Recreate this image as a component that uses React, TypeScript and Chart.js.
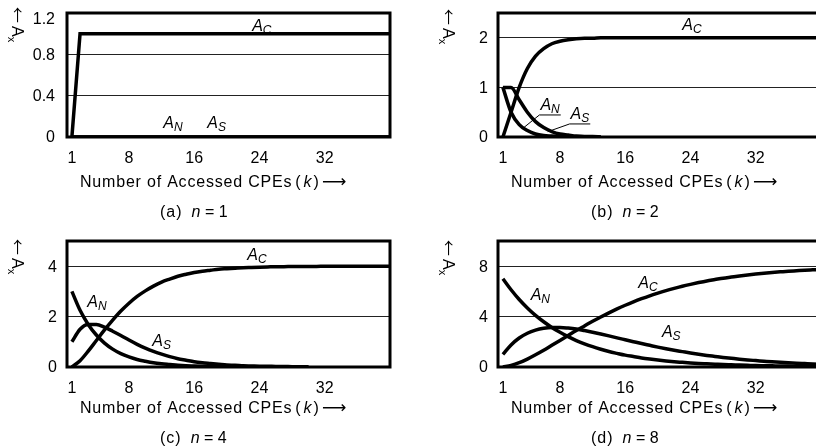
import { useEffect, useRef } from "react";
import { Chart, registerables } from "chart.js";

Chart.register(...registerables);

const SANS = '"Liberation Sans", Arial, sans-serif';
const CJK = '"Noto Sans CJK JP", sans-serif';
const ARROW = '"DejaVu Sans", sans-serif';

// Number of accessed CPEs (k)
const K = [
  1, 2, 3, 4, 5, 6, 7, 8, 9, 10, 11, 12, 13, 14, 15, 16, 17, 18, 19, 20,
  21, 22, 23, 24, 25, 26, 27, 28, 29, 30, 31, 32, 33, 34, 35, 36, 37, 38, 39, 40,
];
const K_TICKS = [1, 8, 16, 24, 32];

// n = 1
const AC_N1 = [
  0, 1, 1, 1, 1, 1, 1, 1, 1, 1, 1, 1, 1, 1, 1, 1, 1, 1, 1, 1,
  1, 1, 1, 1, 1, 1, 1, 1, 1, 1, 1, 1, 1, 1, 1, 1, 1, 1, 1, 1,
];
const AN_N1 = [
  0, 0, 0, 0, 0, 0, 0, 0, 0, 0, 0, 0, 0, 0, 0, 0, 0, 0, 0, 0,
  0, 0, 0, 0, 0, 0, 0, 0, 0, 0, 0, 0, 0, 0, 0, 0, 0, 0, 0, 0,
];
const AS_N1 = [
  0, 0, 0, 0, 0, 0, 0, 0, 0, 0, 0, 0, 0, 0, 0, 0, 0, 0, 0, 0,
  0, 0, 0, 0, 0, 0, 0, 0, 0, 0, 0, 0, 0, 0, 0, 0, 0, 0, 0, 0,
];
const Y_TICKS_N1 = [0, 0.4, 0.8, 1.2];

// n = 2
const AC_N2 = [
  0, 0.5, 1.0, 1.38, 1.63, 1.78, 1.88, 1.93, 1.96, 1.98, 1.99, 1.99, 2, 2, 2, 2, 2, 2, 2, 2,
  2, 2, 2, 2, 2, 2, 2, 2, 2, 2, 2, 2, 2, 2, 2, 2, 2, 2, 2, 2,
];
const AN_N2 = [1, 0.5, 0.25, 0.13, 0.06, 0.03, 0.02, 0.01, 0, 0, 0, 0, 0];
const AS_N2 = [1, 1, 0.75, 0.5, 0.31, 0.19, 0.11, 0.06, 0.04, 0.02, 0.01, 0.01, 0];
const Y_TICKS_N2 = [0, 1, 2];

// n = 4
const AC_N4 = [
  0, 0.25, 0.63, 1.05, 1.47, 1.86, 2.22, 2.53, 2.8, 3.02, 3.21, 3.37, 3.49, 3.6, 3.68, 3.75,
  3.8, 3.84, 3.88, 3.9, 3.92, 3.94, 3.95, 3.96, 3.97, 3.98, 3.98, 3.99, 3.99, 3.99, 3.99,
  4, 4, 4, 4, 4, 4, 4, 4, 4,
];
const AN_N4 = [
  3, 2.25, 1.69, 1.27, 0.95, 0.71, 0.53, 0.4, 0.3, 0.23, 0.17, 0.13, 0.1, 0.07, 0.05,
  0.04, 0.03, 0.02, 0.02, 0.01, 0.01, 0.01, 0.01, 0, 0, 0, 0, 0, 0, 0,
];
const AS_N4 = [
  1, 1.5, 1.69, 1.69, 1.58, 1.42, 1.25, 1.07, 0.9, 0.75, 0.62, 0.51, 0.41, 0.33, 0.27,
  0.21, 0.17, 0.14, 0.11, 0.08, 0.07, 0.05, 0.04, 0.03, 0.03, 0.02, 0.02, 0.01, 0.01, 0.01,
];
const Y_TICKS_N4 = [0, 2, 4];

// n = 8
const AC_N8 = [
  0, 0.13, 0.34, 0.63, 0.97, 1.33, 1.72, 2.11, 2.5, 2.89, 3.26, 3.63, 3.97, 4.3, 4.61,
  4.9, 5.17, 5.42, 5.65, 5.86, 6.06, 6.24, 6.41, 6.56, 6.7, 6.83, 6.94, 7.05, 7.14, 7.23,
  7.31, 7.38, 7.44, 7.5, 7.55, 7.6, 7.64, 7.68, 7.71, 7.74,
];
const AN_N8 = [
  7, 6.13, 5.36, 4.69, 4.1, 3.59, 3.14, 2.75, 2.41, 2.1, 1.84, 1.61, 1.41, 1.23, 1.08,
  0.94, 0.83, 0.72, 0.63, 0.55, 0.48, 0.42, 0.37, 0.32, 0.28, 0.25, 0.22, 0.19, 0.17, 0.15,
  0.13, 0.11, 0.1, 0.09, 0.07, 0.07, 0.06, 0.05, 0.04, 0.04,
];
const AS_N8 = [
  1, 1.75, 2.3, 2.68, 2.93, 3.08, 3.14, 3.14, 3.09, 3.01, 2.89, 2.76, 2.62, 2.47, 2.31,
  2.16, 2.01, 1.86, 1.72, 1.58, 1.45, 1.33, 1.22, 1.11, 1.01, 0.92, 0.84, 0.76, 0.69, 0.62,
  0.56, 0.51, 0.46, 0.41, 0.37, 0.34, 0.3, 0.27, 0.24, 0.22,
];
const Y_TICKS_N8 = [0, 4, 8];

type CurveLabel = { sub: string; k: number; v: number; lead?: { k: number; v: number } };

type Panel = {
  tag: string;
  n: string;
  ac: number[];
  an: number[];
  as: number[];
  yMax: number;
  yTicks: number[];
  smooth: boolean;
  labels: CurveLabel[];
  left: number;
  top: number;
  width: number;
  padL: number;
  padR: number;
  padT: number;
  axisH: number;
  titleY: number;
  captionY: number;
  axTitleY: number;
  tickGap: number;
};

const PANELS: Panel[] = [
  {
    tag: "a", n: "1", ac: AC_N1, an: AN_N1, as: AS_N1, yMax: 1.2, yTicks: Y_TICKS_N1, smooth: false,
    labels: [
      { sub: "C", k: 23.1, v: 1.03 },
      { sub: "N", k: 12.2, v: 0.084 },
      { sub: "S", k: 17.6, v: 0.084 },
    ],
    left: 0, top: 0, width: 408, padL: 67, padR: 18, padT: 13, axisH: 87,
    titleY: 187, captionY: 217, axTitleY: 7, tickGap: 12,
  },
  {
    tag: "b", n: "2", ac: AC_N2, an: AN_N2, as: AS_N2, yMax: 2.5, yTicks: Y_TICKS_N2, smooth: true,
    labels: [
      { sub: "C", k: 23.0, v: 2.15 },
      { sub: "N", k: 5.6, v: 0.545, lead: { k: 3.45, v: 0.175 } },
      { sub: "S", k: 9.3, v: 0.364, lead: { k: 6.5, v: 0.107 } },
    ],
    left: 408, top: 0, width: 430, padL: 90, padR: 17, padT: 13, axisH: 87,
    titleY: 187, captionY: 217, axTitleY: 9, tickGap: 10,
  },
  {
    tag: "c", n: "4", ac: AC_N4, an: AN_N4, as: AS_N4, yMax: 5, yTicks: Y_TICKS_N4, smooth: true,
    labels: [
      { sub: "C", k: 22.5, v: 4.23 },
      { sub: "N", k: 2.88, v: 2.39 },
      { sub: "S", k: 10.85, v: 0.82 },
    ],
    left: 0, top: 224, width: 408, padL: 67, padR: 18, padT: 17, axisH: 81,
    titleY: 189, captionY: 219, axTitleY: 15, tickGap: 10,
  },
  {
    tag: "d", n: "8", ac: AC_N8, an: AN_N8, as: AS_N8, yMax: 10, yTicks: Y_TICKS_N8, smooth: true,
    labels: [
      { sub: "C", k: 17.6, v: 6.24 },
      { sub: "N", k: 4.4, v: 5.3 },
      { sub: "S", k: 20.5, v: 2.42 },
    ],
    left: 408, top: 224, width: 430, padL: 90, padR: 17, padT: 17, axisH: 81,
    titleY: 189, captionY: 219, axTitleY: 16, tickGap: 10,
  },
];

type Seg = { t: string; f: string; dy?: number; ls?: string; gap?: number };

// Draws a run of differently styled text pieces left to right; returns the run width.
function drawSegs(ctx: CanvasRenderingContext2D, x: number, y: number, segs: Seg[]): number {
  let cx = x;
  for (const s of segs) {
    cx += s.gap ?? 0;
    ctx.font = s.f;
    (ctx as any).letterSpacing = s.ls ?? "0px";
    ctx.fillText(s.t, cx, y + (s.dy ?? 0));
    cx += ctx.measureText(s.t).width;
  }
  (ctx as any).letterSpacing = "0px";
  return cx - x;
}

function decorations(p: Panel) {
  return {
    id: "decorations-" + p.tag,
    afterDraw(chart: Chart) {
      const ctx = chart.ctx;
      const area = chart.chartArea;
      const xs = chart.scales.x;
      const ys = chart.scales.y;
      ctx.save();
      ctx.fillStyle = "#000";
      ctx.strokeStyle = "#000";

      // plot frame
      ctx.lineWidth = 3;
      ctx.strokeRect(area.left, area.top, area.right - area.left, area.bottom - area.top);

      // y tick labels
      ctx.font = `16px ${SANS}`;
      ctx.textAlign = "right";
      ctx.textBaseline = "middle";
      for (const v of p.yTicks) {
        const y = Math.max(ys.getPixelForValue(v), area.top + 6);
        ctx.fillText(String(v), area.left - p.tickGap, y + 1);
      }

      // curve labels A_C, A_N, A_S
      ctx.textAlign = "left";
      ctx.textBaseline = "alphabetic";
      for (const l of p.labels) {
        const x = xs.getPixelForValue(l.k);
        const y = ys.getPixelForValue(l.v);
        const w = drawSegs(ctx, x, y, [
          { t: "A", f: `italic 16px ${SANS}` },
          { t: l.sub, f: `italic 12px ${SANS}`, dy: 3 },
        ]);
        if (l.lead) {
          ctx.lineWidth = 1;
          ctx.beginPath();
          ctx.moveTo(x + w + 1, y + 5);
          ctx.lineTo(x - 1, y + 5);
          ctx.lineTo(xs.getPixelForValue(l.lead.k), ys.getPixelForValue(l.lead.v));
          ctx.stroke();
        }
      }

      // vertical axis title
      ctx.save();
      ctx.translate(area.left - 55, p.axTitleY);
      ctx.rotate(Math.PI / 2);
      drawSegs(ctx, 0, 0, [
        { t: "←", f: `16px ${CJK}` },
        { t: "A", f: `16px ${SANS}`, gap: 3 },
        { t: "x", f: `11px ${SANS}`, dy: 4 },
      ]);
      ctx.restore();

      // horizontal axis title
      drawSegs(ctx, area.left + 13, p.titleY, [
        { t: "Number of Accessed CPEs", f: `16px ${SANS}`, ls: "0.8px" },
        { t: "(", f: `16px ${SANS}`, gap: 3 },
        { t: "k", f: `italic 16px ${SANS}`, gap: 3 },
        { t: ")", f: `16px ${SANS}`, gap: 2 },
        { t: "⟶", f: `17px ${ARROW}`, gap: 3 },
      ]);

      // caption
      drawSegs(ctx, area.left + 93, p.captionY, [
        { t: "(", f: `16px ${SANS}` },
        { t: p.tag, f: `16px ${SANS}`, gap: 1 },
        { t: ")", f: `16px ${SANS}`, gap: 1 },
        { t: "n", f: `italic 16px ${SANS}`, gap: 10 },
        { t: " = " + p.n, f: `16px ${SANS}` },
      ]);

      ctx.restore();
    },
  };
}

function PanelChart({ p }: { p: Panel }) {
  const ref = useRef<HTMLCanvasElement | null>(null);

  useEffect(() => {
    if (!ref.current) return;
    const series = (vals: number[]) => vals.map((v, i) => ({ x: K[i], y: v }));
    const line = {
      borderColor: "#000",
      borderWidth: 3.5,
      pointRadius: 0,
      fill: false,
      tension: 0,
      cubicInterpolationMode: p.smooth ? "monotone" : "default",
    };
    const chart = new Chart(ref.current, {
      type: "line",
      data: {
        datasets: [
          { label: "A_C", data: series(p.ac), ...line },
          { label: "A_N", data: series(p.an), ...line },
          { label: "A_S", data: series(p.as), ...line },
        ],
      } as any,
      options: {
        animation: false,
        responsive: false,
        maintainAspectRatio: false,
        layout: { padding: { left: 0, right: p.padR, top: p.padT, bottom: 0 } },
        plugins: { legend: { display: false }, tooltip: { enabled: false } },
        scales: {
          x: {
            type: "linear",
            min: 0.4,
            max: 40,
            afterBuildTicks: (s: any) => {
              s.ticks = K_TICKS.map((v) => ({ value: v }));
            },
            afterFit: (s: any) => {
              s.height = p.axisH;
            },
            grid: { display: false, drawTicks: false },
            border: { display: false },
            ticks: {
              color: "#000",
              font: { family: SANS, size: 16 },
              padding: 12,
              maxRotation: 0,
              autoSkip: false,
              callback: (v: any) => String(v),
            },
          },
          y: {
            type: "linear",
            min: 0,
            max: p.yMax,
            afterBuildTicks: (s: any) => {
              s.ticks = p.yTicks.map((v) => ({ value: v }));
            },
            afterFit: (s: any) => {
              s.width = p.padL;
            },
            grid: { color: "#222", lineWidth: 1, drawTicks: false },
            border: { display: false },
            ticks: { display: false },
          },
        },
      } as any,
      plugins: [decorations(p)],
    });
    return () => chart.destroy();
  }, [p]);

  return (
    <canvas
      ref={ref}
      width={p.width}
      height={224}
      style={{ position: "absolute", left: p.left, top: p.top, width: p.width, height: 224, display: "block" }}
    />
  );
}

export default function App() {
  return (
    <div
      style={{
        position: "fixed",
        left: 0,
        top: 0,
        width: 816,
        height: 448,
        overflow: "hidden",
        background: "#fff",
      }}
    >
      {PANELS.map((p) => (
        <PanelChart key={p.tag} p={p} />
      ))}
    </div>
  );
}
